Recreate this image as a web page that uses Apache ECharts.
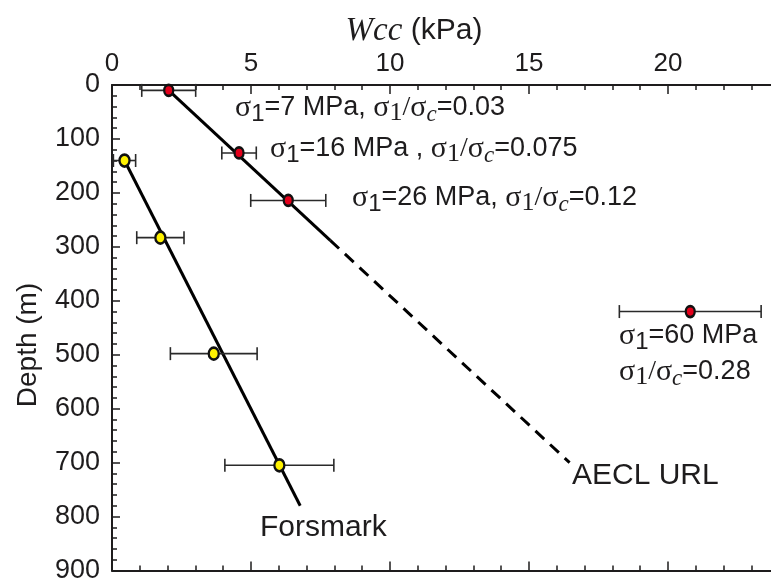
<!DOCTYPE html>
<html><head><meta charset="utf-8">
<script src="https://cdn.jsdelivr.net/npm/echarts/dist/echarts.min.js"></script>
<style>html,body{margin:0;padding:0;background:#fff}#c{width:771px;height:580px}</style>
</head><body><div id="c"></div>
<script>
// ---- data ----
const forsmarkDepth = [140, 283, 498, 705];
const forsmarkWcc   = [0.45, 1.74, 3.66, 6.02];
const forsmarkErr   = [0.40, 0.85, 1.56, 1.96];
const aeclDepth = [10, 126, 214, 420];
const aeclWcc   = [2.04, 4.57, 6.34, 20.8];
const aeclErr   = [0.97, 0.62, 1.35, 2.55];
const forsmarkFitWcc   = [0.45, 6.77];
const forsmarkFitDepth = [140, 780];
const aeclSolidWcc   = [2.04, 7.85];
const aeclSolidDepth = [10, 288];
const aeclDashWcc    = [7.85, 16.46];
const aeclDashDepth  = [288, 700];
const xTickLabels = [0, 5, 10, 15, 20];
const yTickLabels = [0, 100, 200, 300, 400, 500, 600, 700, 800, 900];

const ink = '#1e1c1d';
const SANS = '"Liberation Sans", Arial, sans-serif';
const SERIF = '"Liberation Serif", "Times New Roman", serif';

const pairs = (xs, ys) => xs.map((v, i) => [v, ys[i]]);

function errBar(wcc, depth, err) {
  return {
    type: 'custom',
    xAxisIndex: 0, yAxisIndex: 0,
    z: 3,
    silent: true,
    data: wcc.map((v, i) => [v - err[i], v + err[i], depth[i]]),
    renderItem: function (params, api) {
      const l = api.coord([api.value(0), api.value(2)]);
      const r = api.coord([api.value(1), api.value(2)]);
      const h = 6.5;
      const st = { stroke: '#2a2a2a', lineWidth: 1.6 };
      return {
        type: 'group',
        children: [
          { type: 'line', shape: { x1: l[0], y1: l[1], x2: r[0], y2: r[1] }, style: st },
          { type: 'line', shape: { x1: l[0], y1: l[1] - h, x2: l[0], y2: l[1] + h }, style: st },
          { type: 'line', shape: { x1: r[0], y1: r[1] - h, x2: r[0], y2: r[1] + h }, style: st }
        ]
      };
    }
  };
}

function xAxisDef(pos, showLabel) {
  return {
    type: 'value', position: pos, min: 0, max: 25, interval: 5,
    axisLine: { show: true, onZero: false, lineStyle: { color: ink, width: 2 } },
    axisTick: { show: true, inside: true, length: 9, lineStyle: { color: ink, width: 1.5 } },
    minorTick: { show: true, splitNumber: 5, length: 5, lineStyle: { color: ink, width: 1.5 } },
    splitLine: { show: false }, minorSplitLine: { show: false },
    axisLabel: {
      show: showLabel, fontSize: 26, fontFamily: SANS, color: ink, margin: 8,
      showMaxLabel: false,
      formatter: v => (xTickLabels.indexOf(v) >= 0 ? String(v) : '')
    }
  };
}

const rich = {
  s:  { fontFamily: SERIF, fontSize: 30, lineHeight: 36, color: ink },
  n:  { fontFamily: SANS, fontSize: 24, lineHeight: 36, verticalAlign: 'bottom', color: ink },
  r:  { fontFamily: SERIF, fontSize: 26, lineHeight: 36, verticalAlign: 'bottom', color: ink },
  t:  { fontFamily: SERIF, fontSize: 28, lineHeight: 36, color: ink },
  c:  { fontFamily: SERIF, fontStyle: 'italic', fontSize: 23, lineHeight: 36, verticalAlign: 'bottom', color: ink },
  m:  { fontFamily: SANS, fontSize: 27, lineHeight: 36, color: ink }
};
const ratio = '{s|σ}{r|1}{t|/}{s|σ}{c|c}';
function ann(x, y, text) {
  return { type: 'text', x: x, y: y, z: 10,
    style: { text: text, rich: rich, align: 'left', verticalAlign: 'middle',
             font: '27px ' + SANS, fill: ink } };
}

const chart = echarts.init(document.getElementById('c'), null, { renderer: 'canvas' });
chart.setOption({
  animation: false,
  backgroundColor: '#ffffff',
  grid: { left: 112, top: 85, width: 695, bottom: 9.5, containLabel: false, outerBoundsMode: 'none' },
  xAxis: [xAxisDef('top', true), xAxisDef('bottom', false)],
  yAxis: {
    type: 'value', inverse: true, min: 0, max: 900, interval: 100,
    axisLine: { show: true, onZero: false, lineStyle: { color: ink, width: 2 } },
    axisTick: { show: true, inside: true, length: 8, lineStyle: { color: ink, width: 1.5 } },
    minorTick: { show: true, splitNumber: 5, length: 5, lineStyle: { color: ink, width: 1.5 } },
    splitLine: { show: false },
    axisLabel: { fontSize: 27, fontFamily: SANS, color: ink, margin: 12,
      formatter: v => (yTickLabels.indexOf(v) >= 0 ? String(v) : '') }
  },
  series: [
    { type: 'line', data: pairs(forsmarkFitWcc, forsmarkFitDepth), symbol: 'none', z: 2,
      lineStyle: { color: '#000', width: 3 } },
    { type: 'line', data: pairs(aeclSolidWcc, aeclSolidDepth), symbol: 'none', z: 2,
      lineStyle: { color: '#000', width: 3 } },
    { type: 'line', data: pairs(aeclDashWcc, aeclDashDepth), symbol: 'none', z: 2,
      lineStyle: { color: '#000', width: 3, type: [12, 8] } },
    errBar(forsmarkWcc, forsmarkDepth, forsmarkErr),
    errBar(aeclWcc, aeclDepth, aeclErr),
    { type: 'scatter', data: pairs(forsmarkWcc, forsmarkDepth), symbol: 'circle', symbolSize: [10, 12], z: 5,
      itemStyle: { color: '#fff200', borderColor: '#111', borderWidth: 2.5, opacity: 1 } },
    { type: 'scatter', data: pairs(aeclWcc, aeclDepth), symbol: 'circle', symbolSize: [9, 11], z: 5,
      itemStyle: { color: '#e3001b', borderColor: '#111', borderWidth: 2.5, opacity: 1 } }
  ],
  graphic: [
    { type: 'text', x: 414, y: 31, style: { text: '{w|Wcc} (kPa)', align: 'center', verticalAlign: 'middle',
        font: '30px ' + SANS, fill: ink,
        rich: { w: { fontFamily: SERIF, fontStyle: 'italic', fontSize: 33, color: ink } } } },
    { type: 'text', x: 28, y: 345, rotation: Math.PI / 2,
      style: { text: 'Depth (m)', align: 'center', verticalAlign: 'middle', font: '28px ' + SANS, fill: ink } },
    ann(235, 108, '{s|σ}{n|1}{m|=7 MPa, }' + ratio + '{m|=0.03}'),
    ann(270, 149, '{s|σ}{n|1}{m|=16 MPa , }' + ratio + '{m|=0.075}'),
    ann(352, 198, '{s|σ}{n|1}{m|=26 MPa, }' + ratio + '{m|=0.12}'),
    ann(619, 336, '{s|σ}{n|1}{m|=60 MPa}'),
    ann(619, 372, ratio + '{m|=0.28}'),
    { type: 'text', x: 572, y: 476, style: { text: 'AECL URL', align: 'left', verticalAlign: 'middle', font: '30px ' + SANS, fill: ink } },
    { type: 'text', x: 260, y: 528, style: { text: 'Forsmark', align: 'left', verticalAlign: 'middle', font: '30px ' + SANS, fill: ink } }
  ]
});
</script>
</body></html>
